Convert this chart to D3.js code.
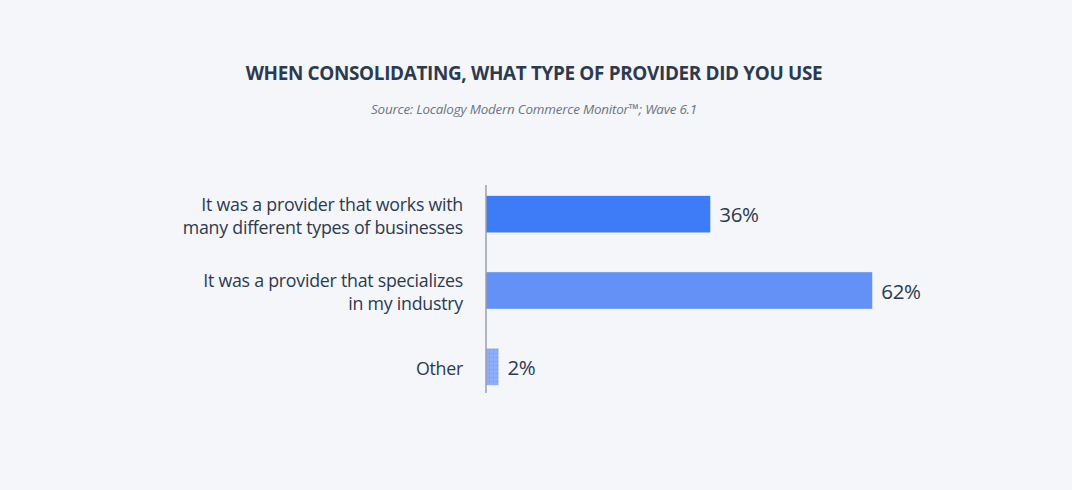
<!DOCTYPE html>
<html><head><meta charset="utf-8">
<script src="https://cdn.jsdelivr.net/npm/d3@7"></script>
<style>
html,body{margin:0;padding:0;background:#f4f6fa;}
svg{display:block;}
</style></head><body>
<svg id="chart" width="1072" height="490"></svg>
<script>
const categories = [
  ["It was a provider that works with", "many different types of businesses"],
  ["It was a provider that specializes", "in my industry"],
  ["Other"]
];
const values = [36, 62, 2];
const valueLabels = ["36%", "62%", "2%"];
const titleText = "WHEN CONSOLIDATING, WHAT TYPE OF PROVIDER DID YOU USE";
const sourceText = "Source: Localogy Modern Commerce Monitor\u2122; Wave 6.1";

const svg = d3.select("#chart");
const W = 1072, H = 490;
svg.append("rect").attr("width", W).attr("height", H).attr("fill", "#f4f6fa");

const defs = svg.append("defs");
const pat = defs.append("pattern").attr("id","dots").attr("patternUnits","userSpaceOnUse")
  .attr("width",4).attr("height",4);
pat.append("rect").attr("width",4).attr("height",4).attr("fill","#8eacf7");
pat.append("rect").attr("x",1).attr("y",1).attr("width",1).attr("height",1).attr("fill","#6f8fe8");

const textColor = "#2d3a4d";
const fam = "'Open Sans', sans-serif";

svg.append("text").attr("x", 534).attr("y", 80).attr("text-anchor","middle")
  .attr("font-family", fam).attr("font-weight", 700)
  .attr("font-size", 18.9).attr("fill", textColor).attr("letter-spacing", -0.33)
  .text(titleText);
svg.append("text").attr("x", 534).attr("y", 114).attr("text-anchor","middle")
  .attr("font-family", fam).attr("font-style","italic")
  .attr("font-size", 13.4).attr("fill", "#6b7482").attr("letter-spacing", -0.2)
  .text(sourceText);

const x = d3.scaleLinear().domain([0, 80]).range([486, 486 + 80*6.23]);
const y = d3.scaleBand().domain(d3.range(values.length)).range([176, 405]).paddingInner(0.52).paddingOuter(0.26);

const colors = ["#3d7bf7", "#6391f6", "url(#dots)"];

svg.selectAll("rect.bar").data(values).join("rect").attr("class","bar")
  .attr("x", x(0)).attr("y", (d,i)=>y(i)).attr("width", d=>x(d)-x(0))
  .attr("height", y.bandwidth()).attr("fill", (d,i)=>colors[i]);

svg.append("line").attr("x1", x(0)).attr("x2", x(0)).attr("y1", 185).attr("y2", 393)
  .attr("stroke", "#9aa0a9").attr("stroke-width", 1.5);

svg.selectAll("text.val").data(values).join("text").attr("class","val")
  .attr("x", d=>x(d)+9).attr("y", (d,i)=>y(i)+y.bandwidth()/2 + 1).attr("dy","0.35em")
  .attr("font-family", fam).attr("font-size", 20.5).attr("fill", textColor)
  .attr("letter-spacing", -0.3)
  .text((d,i)=>valueLabels[i]);

const lab = svg.selectAll("text.lab").data(categories).join("text").attr("class","lab")
  .attr("text-anchor","end").attr("font-family", fam)
  .attr("font-size", 17.8).attr("fill", textColor).attr("letter-spacing", -0.25);
lab.each(function(lines, i){
  const t = d3.select(this);
  const cy = y(i) + y.bandwidth()/2 + 2;
  const lh = 23;
  lines.forEach((ln, j) => {
    t.append("tspan").attr("x", 463)
      .attr("y", cy + (j - (lines.length-1)/2)*lh).attr("dy","0.35em").text(ln);
  });
});
</script></body></html>
